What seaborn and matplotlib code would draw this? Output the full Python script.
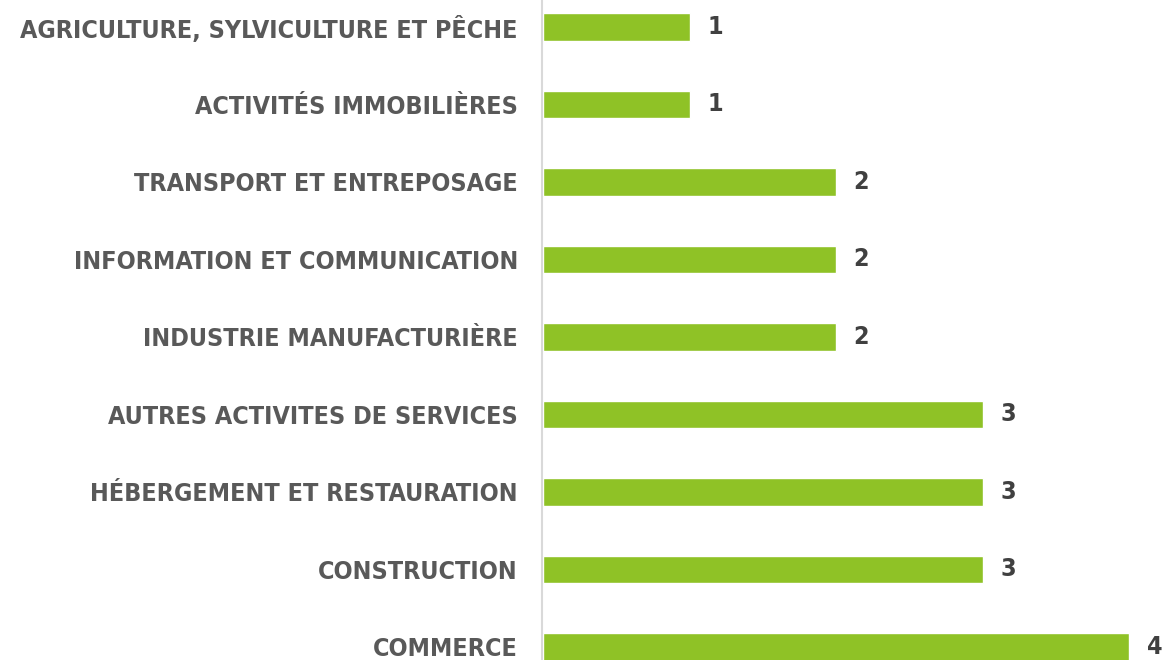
import pandas as pd
import seaborn as sns
from matplotlib import pyplot as plt

secteurs = ['AGRICULTURE, SYLVICULTURE ET PÊCHE', 'ACTIVITÉS IMMOBILIÈRES',
            'TRANSPORT ET ENTREPOSAGE', 'INFORMATION ET COMMUNICATION',
            'INDUSTRIE MANUFACTURIÈRE', 'AUTRES ACTIVITES DE SERVICES',
            'HÉBERGEMENT ET RESTAURATION', 'CONSTRUCTION', 'COMMERCE']
nombres = [1, 1, 2, 2, 2, 3, 3, 3, 4]

sns.set_style('white')
plt.rcParams['font.family'] = ['DejaVu Sans']
plt.rcParams['font.stretch'] = 'condensed'
plt.rcParams['font.weight'] = 'bold'

data = pd.DataFrame({'secteur': secteurs, 'nombre': nombres})

fig = plt.figure(figsize=(11.65, 6.6), dpi=100)
ax = fig.add_axes([543 / 1165, 0, 622 / 1165, 1])
sns.barplot(data=data, x='nombre', y='secteur', color='#8FC226', saturation=1,
            width=0.36, orient='h', ax=ax)

ax.set_xlim(0, 622 / 146.5)
ax.set_ylim((660 - 27) / 77.5, -27 / 77.5)

for i, v in enumerate(nombres):
    ax.text(v + 0.12, i, str(v), va='center', ha='left', fontsize=18,
            fontweight='bold', color='#404040')

ax.set_xlabel('')
ax.set_ylabel('')
ax.set_xticks([])
ax.tick_params(axis='y', length=0, pad=17, labelsize=18, labelcolor='#595959')

for s in ['top', 'right', 'bottom']:
    ax.spines[s].set_visible(False)
ax.spines['left'].set_color('#D9D9D9')
ax.spines['left'].set_linewidth(1.5)
ax.spines['left'].set_position(('data', -0.01))

fig.savefig('out.png', dpi=100)
